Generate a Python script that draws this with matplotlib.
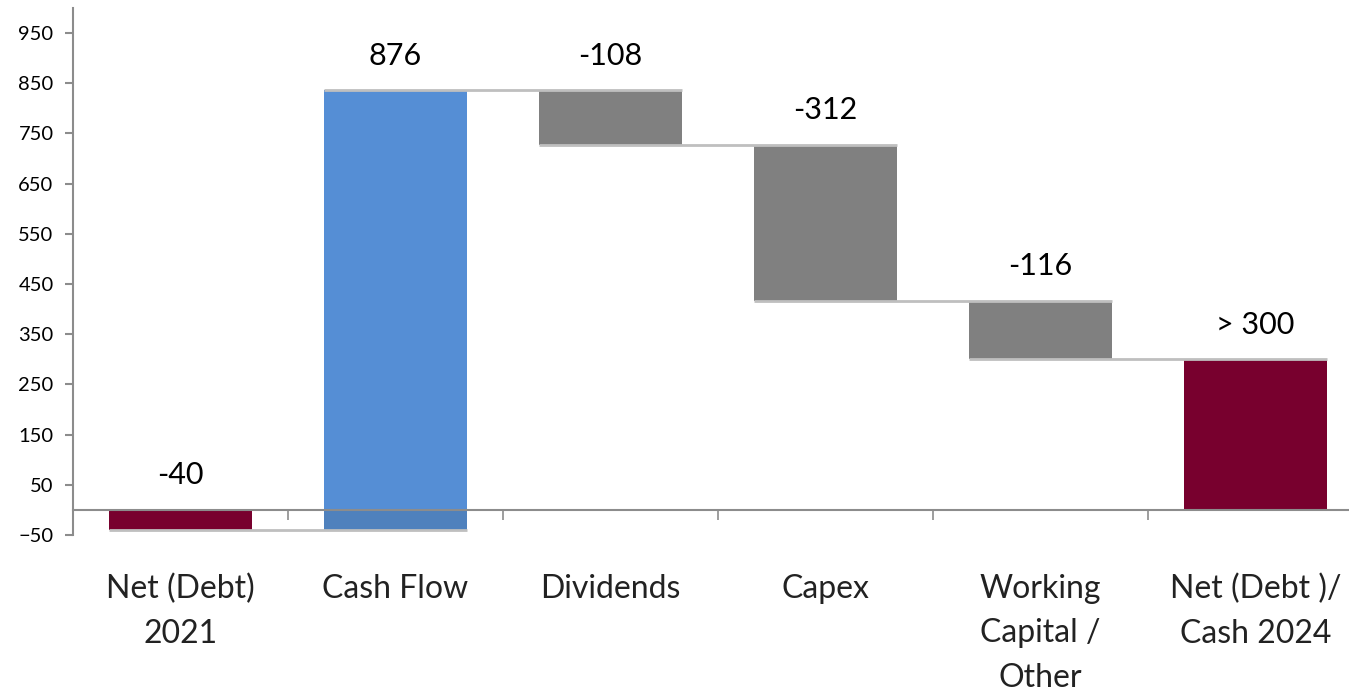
import numpy as np
import matplotlib.pyplot as plt

plt.rcParams['font.family'] = ['Lato', 'DejaVu Sans']

# Waterfall data
categories = ['Net (Debt)\n2021', 'Cash Flow', 'Dividends', 'Capex',
              'Working\nCapital /\nOther', 'Net (Debt )/\nCash 2024']
values = [-40, 876, -108, -312, -116, 300]
value_labels = ['-40', '876', '-108', '-312', '-116', '> 300']
is_total = [True, False, False, False, False, True]

maroon = '#78002E'
blue = '#558ED5'
blue_dark = '#4F81BD'
grey = '#808080'
line_grey = '#BFBFBF'
axis_grey = '#8C8C8C'

# work out bar bottoms / tops
bottoms, tops = [], []
level = 0
for v, tot in zip(values, is_total):
    if tot:
        b, t = 0, v
        level = v
    else:
        b, t = level, level + v
        level = level + v
    bottoms.append(b)
    tops.append(t)

fig = plt.figure(figsize=(13.49, 6.9), dpi=100)
ax = fig.add_axes([73 / 1349, 155 / 690, 1276 / 1349, 527 / 690])

x = np.arange(len(categories))
w = 0.665

for i in range(len(values)):
    lo, hi = min(bottoms[i], tops[i]), max(bottoms[i], tops[i])
    if is_total[i]:
        col = maroon
    elif values[i] > 0:
        col = blue
    else:
        col = grey
    if col == blue and lo < 0:
        # part below zero shows darker in the original
        ax.bar(x[i], 0 - lo, bottom=lo, width=w, color=blue_dark, zorder=2)
        ax.bar(x[i], hi, bottom=0, width=w, color=col, zorder=2)
    else:
        ax.bar(x[i], hi - lo, bottom=lo, width=w, color=col, zorder=2)

# connector lines between consecutive bars
for i in range(len(values) - 1):
    lvl = tops[i]
    ax.plot([x[i] - w / 2, x[i + 1] + w / 2], [lvl, lvl],
            color=line_grey, lw=2, zorder=3, solid_capstyle='butt')

# value labels above bars
for i in range(len(values)):
    top = max(bottoms[i], tops[i])
    ax.annotate(value_labels[i], (x[i], top), xytext=(0, 25),
                textcoords='offset points', ha='center', va='center',
                fontsize=22, color='black')

ax.set_xlim(-0.5, -0.5 + 1276 / 215)
ax.set_ylim(-50, 1000)
ax.set_yticks(np.arange(-50, 1000, 100))
ax.tick_params(axis='y', direction='out', length=6, width=1.5,
               color=axis_grey, labelsize=14.5, pad=8)

ax.spines['top'].set_visible(False)
ax.spines['right'].set_visible(False)
ax.spines['left'].set_color(axis_grey)
ax.spines['left'].set_linewidth(1.5)
ax.spines['bottom'].set_position(('data', 0))
ax.spines['bottom'].set_color(axis_grey)
ax.spines['bottom'].set_linewidth(1.5)
ax.spines['bottom'].set_zorder(4)

ax.set_xticks(x)
ax.set_xticklabels(categories, fontsize=23, linespacing=1.6, color='#222222')
ax.tick_params(axis='x', which='major', length=0, pad=46)
ax.set_xticks(np.arange(len(categories) - 1) + 0.5, minor=True)
ax.tick_params(axis='x', which='minor', direction='out', length=7,
               width=1.2, color=axis_grey)

fig.savefig('out.png', dpi=100)
